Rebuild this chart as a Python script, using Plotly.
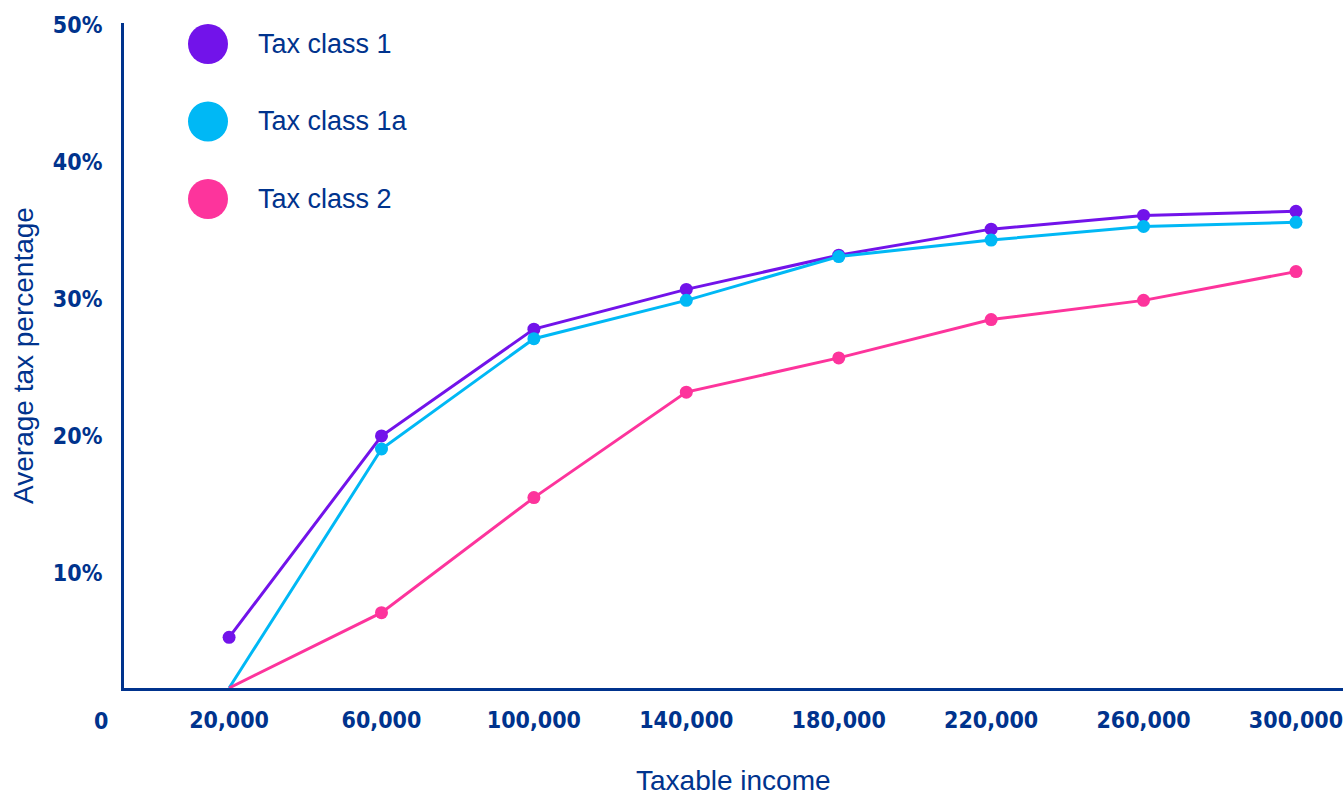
import plotly.graph_objects as go

income = [20000, 60000, 100000, 140000, 180000, 220000, 260000, 300000]
tax_class_1 = [5.3, 20.0, 27.8, 30.7, 33.2, 35.1, 36.1, 36.4]
tax_class_1a = [1.6, 19.05, 27.1, 29.9, 33.1, 34.3, 35.3, 35.6]
tax_class_2 = [1.6, 7.1, 15.5, 23.2, 25.7, 28.5, 29.9, 32.0]
series_names = ["Tax class 1", "Tax class 1a", "Tax class 2"]
x_ticks = [20000, 60000, 100000, 140000, 180000, 220000, 260000, 300000]
x_tick_labels = ["20,000", "60,000", "100,000", "140,000", "180,000", "220,000", "260,000", "300,000"]
y_ticks = [10, 20, 30, 40, 50]
y_tick_labels = ["10%", "20%", "30%", "40%", "50%"]
x_title = "Taxable income"
y_title = "Average tax percentage"

NAVY = "#00338D"
COLORS = ["#7213EA", "#00B8F5", "#FD349C"]
Y_MIN, Y_MAX = 1.6, 50.15
TICK_FONT = dict(family="DejaVu Sans Condensed, DejaVu Sans, sans-serif",
                 size=23, color=NAVY, weight="bold")
TITLE_FONT = dict(family="Liberation Sans, Arial, sans-serif", size=28, color=NAVY)
LEGEND_FONT = dict(family="Liberation Sans, Arial, sans-serif", size=27, color=NAVY)

fig = go.Figure()
for name, vals, col in zip(series_names, [tax_class_1, tax_class_1a, tax_class_2], COLORS):
    sizes = [0 if v <= Y_MIN + 0.05 else 13 for v in vals]
    fig.add_trace(go.Scatter(
        x=income, y=vals, name=name, mode="lines+markers",
        line=dict(color=col, width=3),
        marker=dict(color=col, size=sizes, opacity=1, line=dict(width=0)),
        cliponaxis=False, showlegend=False,
    ))

# custom legend (large circles + labels)
for i, (name, col) in enumerate(zip(series_names, COLORS)):
    ypix = 44 + i * 77.5
    ypaper = 1 - (ypix - 23) / 665
    fig.add_shape(type="circle", xref="paper", yref="paper",
                  xsizemode="pixel", ysizemode="pixel",
                  xanchor=(208 - 124) / 1219, yanchor=ypaper,
                  x0=-20, x1=20, y0=-20, y1=20,
                  fillcolor=col, line=dict(width=0))
    fig.add_annotation(xref="paper", yref="paper", x=(256 - 124) / 1219, y=ypaper,
                       text=name, showarrow=False, xanchor="left", yanchor="middle",
                       font=LEGEND_FONT)

fig.add_annotation(xref="paper", yref="paper", x=0, y=0, xshift=-14, yshift=-33,
                   text="0", showarrow=False, xanchor="right", yanchor="middle",
                   font=TICK_FONT)

# x-axis title placed below the tick labels
fig.add_annotation(xref="paper", yref="paper", x=0.5, y=0, yshift=-92,
                   text=x_title, showarrow=False, xanchor="center", yanchor="middle",
                   font=TITLE_FONT)

fig.update_layout(
    width=1343, height=796,
    margin=dict(l=124, r=0, t=23, b=108),
    plot_bgcolor="white", paper_bgcolor="white",
    xaxis=dict(range=[-7577, 312344], showgrid=False, zeroline=False,
               showline=True, linecolor=NAVY, linewidth=3, automargin=False,
               tickmode="array", tickvals=x_ticks, ticktext=x_tick_labels,
               tickfont=TICK_FONT, ticks="", ticklabelstandoff=9,
               ticklabeloverflow="allow"),
    yaxis=dict(range=[Y_MIN, Y_MAX], showgrid=False, zeroline=False,
               showline=True, linecolor=NAVY, linewidth=3, automargin=False,
               tickmode="array", tickvals=y_ticks, ticktext=y_tick_labels,
               tickfont=TICK_FONT, ticks="", ticklabelstandoff=14,
               ticklabeloverflow="allow",
               title=dict(text=y_title, standoff=12, font=TITLE_FONT)),
)

fig.write_html("out.html")
